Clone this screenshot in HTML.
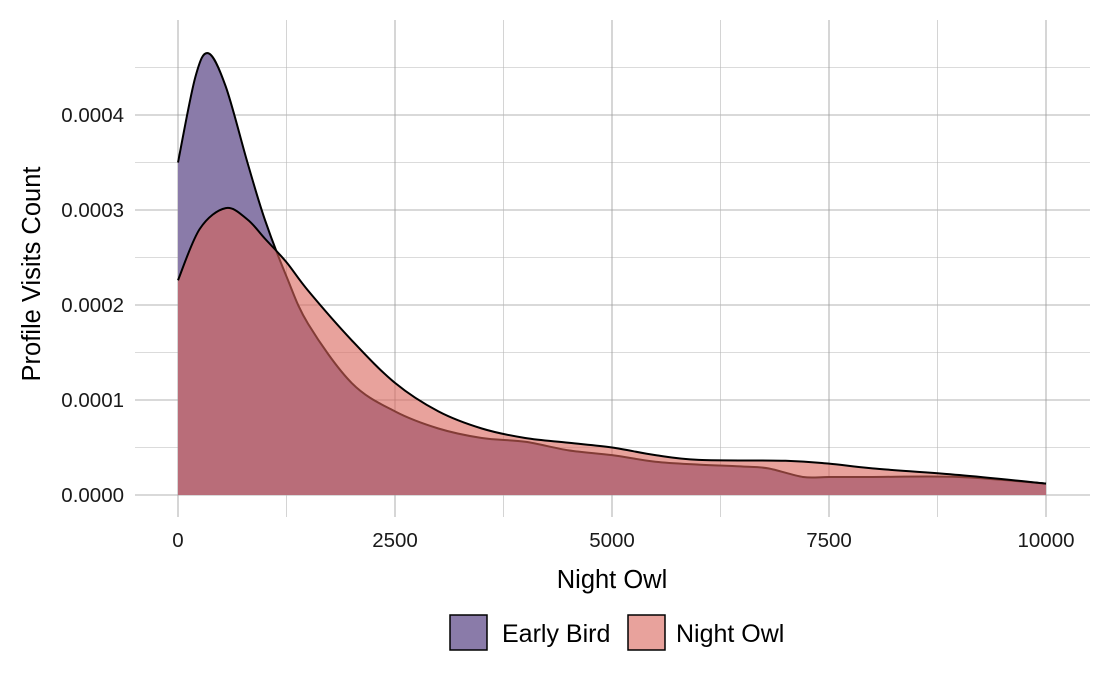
<!DOCTYPE html>
<html><head><meta charset="utf-8">
<style>
body{margin:0;background:#fff;}
svg{display:block;font-family:"Liberation Sans",sans-serif;}
</style></head>
<body>
<svg id="chart" width="1120" height="692">
<g id="grid"></g>
<g id="areas"></g>
<g id="axes"></g>
<text x="612" y="588" text-anchor="middle" font-size="25.5" fill="#000">Night Owl</text>
<text transform="translate(40,274) rotate(-90)" text-anchor="middle" font-size="25.5" fill="#000">Profile Visits Count</text>
<g>
<g>
<rect x="450" y="615" width="37" height="35" fill="#8a7ba9" stroke="#000" stroke-width="1.5"/>
<text x="502" y="642" font-size="25">Early Bird</text>
</g>
<g>
<rect x="628" y="615" width="37" height="35" fill="#e8a29c" stroke="#000" stroke-width="1.5"/>
<text x="676" y="642" font-size="25">Night Owl</text>
</g>
</g>
</svg>
<script>
const earlyX = [0,200,350,550,800,1000,1250,1500,2000,2500,3000,3500,4000,4500,5000,5500,6000,6500,6800,7200,7500,8000,9000,10000];
const earlyY = [0.00035,0.00044,0.000465,0.00043,0.00035,0.00029,0.00023,0.00018,0.000118,0.000088,0.00007,0.00006,0.000056,0.000047,0.000042,0.000035,0.000032,0.00003,0.000028,0.000019,0.000019,0.000019,0.000019,0.000012];
const owlX = [0,250,550,800,1000,1250,1500,2000,2500,3000,3500,4000,4500,5000,5500,6000,7000,7500,8000,9000,10000];
const owlY = [0.000226,0.00028,0.000302,0.00029,0.00027,0.000245,0.000215,0.000163,0.000118,0.000088,0.00007,0.00006,0.000055,0.00005,0.000042,0.000037,0.000036,0.000033,0.000028,0.000021,0.000012];
const xTicks = [0,2500,5000,7500,10000];
const yTicks = [0,0.0001,0.0002,0.0003,0.0004];
const yTickLabels = ["0.0000","0.0001","0.0002","0.0003","0.0004"];

const NS="http://www.w3.org/2000/svg";
const sx = v => 178 + v/10000*868;
const sy = v => 495 - v/0.0001*95;
function mk(tag, attrs, parent){const e=document.createElementNS(NS,tag);for(const k in attrs)e.setAttribute(k,attrs[k]);parent.appendChild(e);return e;}
const grid=document.getElementById('grid'), areas=document.getElementById('areas'), axes=document.getElementById('axes');
const L=135,R=1090,T=20,B=517;
for(let i=0;i<=9;i++){const v=i*0.00005;
  const l=mk('line',{x1:L,x2:R,y1:sy(v),y2:sy(v),stroke:i%2?'#b8b8b8':'#9a9a9a','stroke-width':i%2?0.6:0.8},grid);
  
  
}
for(let i=0;i<=8;i++){const v=i*1250;
  const l=mk('line',{x1:sx(v),x2:sx(v),y1:T,y2:B,stroke:i%2?'#b8b8b8':'#9a9a9a','stroke-width':i%2?0.6:0.8},grid);
  
  
}
function curve(xs,ys){
  const p=xs.map((x,i)=>[sx(x),sy(ys[i])]);
  let d=`M${p[0][0]},${p[0][1]}`;
  for(let i=0;i<p.length-1;i++){
    const p0=p[Math.max(0,i-1)],p1=p[i],p2=p[i+1],p3=p[Math.min(p.length-1,i+2)];
    const c1=[p1[0]+(p2[0]-p0[0])/6,p1[1]+(p2[1]-p0[1])/6];
    const c2=[p2[0]-(p3[0]-p1[0])/6,p2[1]-(p3[1]-p1[1])/6];
    d+=` C${c1[0]},${c1[1]} ${c2[0]},${c2[1]} ${p2[0]},${p2[1]}`;
  }
  return d;
}
function series(xs,ys,fill,op,name){
  const c=curve(xs,ys);
  const a=mk('path',{d:`M${sx(xs[0])},${sy(0)} L`+c.slice(1)+` L${sx(xs[xs.length-1])},${sy(0)} Z`,fill:fill,'fill-opacity':op},areas);
  
  
  const l=mk('path',{d:c,fill:'none',stroke:'#000','stroke-width':2},areas);
  
  
}
series(earlyX,earlyY,'#8a7ba9',1,'early-bird');
series(owlX,owlY,'#d9645a',0.6,'night-owl');
xTicks.forEach(v=>{
  const t=mk('text',{x:sx(v),y:547,'text-anchor':'middle','font-size':20.5,fill:'#1a1a1a'},axes);
  t.textContent=v;
  
  
});
yTicks.forEach((v,i)=>{
  const t=mk('text',{x:124,y:sy(v)+7,'text-anchor':'end','font-size':20.5,fill:'#1a1a1a'},axes);
  t.textContent=yTickLabels[i];
  
  
});
</script>
</body></html>
